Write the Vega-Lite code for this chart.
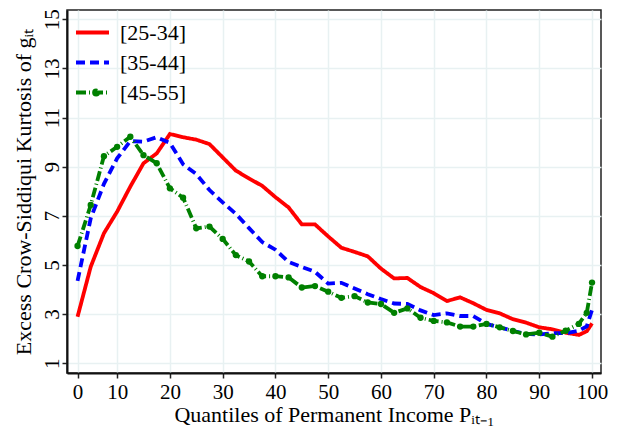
{
  "$schema": "https://vega.github.io/schema/vega-lite/v6.json",
  "width": 534,
  "height": 363,
  "autosize": {"type": "none"},
  "padding": {"left": 67, "top": 10, "right": 20, "bottom": 54},
  "background": "white",
  "config": {
    "font": "Liberation Serif",
    "view": {"stroke": "#222", "strokeWidth": 1.5},
    "axis": {
      "labelFont": "Liberation Serif",
      "titleFont": "Liberation Serif",
      "labelColor": "black",
      "titleColor": "black",
      "labelFontSize": 21,
      "titleFontSize": 22,
      "titleFontWeight": "normal",
      "domainColor": "#111",
      "domainWidth": 2,
      "tickColor": "#222",
      "tickWidth": 1.5,
      "tickSize": 5,
      "gridColor": "#e8f1f2",
      "gridWidth": 1.5
    },
    "legend": {
      "labelFont": "Liberation Serif",
      "labelFontSize": 22,
      "labelColor": "black"
    }
  },
  "data": {
    "values": [
      {"x":2.5,"g":"[25-34]","y":2.89},{"x":5,"g":"[25-34]","y":4.93},{"x":7.5,"g":"[25-34]","y":6.29},{"x":10,"g":"[25-34]","y":7.17},{"x":12.5,"g":"[25-34]","y":8.19},{"x":15,"g":"[25-34]","y":9.14},{"x":17.5,"g":"[25-34]","y":9.54},{"x":20,"g":"[25-34]","y":10.33},{"x":22.5,"g":"[25-34]","y":10.2},{"x":25,"g":"[25-34]","y":10.1},{"x":27.5,"g":"[25-34]","y":9.92},{"x":30,"g":"[25-34]","y":9.38},{"x":32.5,"g":"[25-34]","y":8.84},{"x":35,"g":"[25-34]","y":8.52},{"x":37.5,"g":"[25-34]","y":8.22},{"x":40,"g":"[25-34]","y":7.76},{"x":42.5,"g":"[25-34]","y":7.34},{"x":45,"g":"[25-34]","y":6.65},{"x":47.5,"g":"[25-34]","y":6.65},{"x":50,"g":"[25-34]","y":6.16},{"x":52.5,"g":"[25-34]","y":5.7},{"x":55,"g":"[25-34]","y":5.53},{"x":57.5,"g":"[25-34]","y":5.35},{"x":60,"g":"[25-34]","y":4.85},{"x":62.5,"g":"[25-34]","y":4.45},{"x":65,"g":"[25-34]","y":4.47},{"x":67.5,"g":"[25-34]","y":4.1},{"x":70,"g":"[25-34]","y":3.85},{"x":72.5,"g":"[25-34]","y":3.53},{"x":75,"g":"[25-34]","y":3.68},{"x":77.5,"g":"[25-34]","y":3.44},{"x":80,"g":"[25-34]","y":3.17},{"x":82.5,"g":"[25-34]","y":3.03},{"x":85,"g":"[25-34]","y":2.79},{"x":87.5,"g":"[25-34]","y":2.65},{"x":90,"g":"[25-34]","y":2.46},{"x":92.5,"g":"[25-34]","y":2.38},{"x":95,"g":"[25-34]","y":2.24},{"x":97.5,"g":"[25-34]","y":2.15},{"x":99,"g":"[25-34]","y":2.3},{"x":100,"g":"[25-34]","y":2.62},
      {"x":2.5,"g":"[35-44]","y":4.35},{"x":5,"g":"[35-44]","y":6.9},{"x":7.5,"g":"[35-44]","y":8.3},{"x":10,"g":"[35-44]","y":9.34},{"x":12.5,"g":"[35-44]","y":10.04},{"x":15,"g":"[35-44]","y":10.02},{"x":17.5,"g":"[35-44]","y":10.2},{"x":20,"g":"[35-44]","y":9.97},{"x":22.5,"g":"[35-44]","y":9.1},{"x":25,"g":"[35-44]","y":8.7},{"x":27.5,"g":"[35-44]","y":8.05},{"x":30,"g":"[35-44]","y":7.55},{"x":32.5,"g":"[35-44]","y":7.08},{"x":35,"g":"[35-44]","y":6.5},{"x":37.5,"g":"[35-44]","y":5.93},{"x":40,"g":"[35-44]","y":5.62},{"x":42.5,"g":"[35-44]","y":5.12},{"x":45,"g":"[35-44]","y":4.92},{"x":47.5,"g":"[35-44]","y":4.72},{"x":50,"g":"[35-44]","y":4.24},{"x":52.5,"g":"[35-44]","y":4.27},{"x":55,"g":"[35-44]","y":4.04},{"x":57.5,"g":"[35-44]","y":3.81},{"x":60,"g":"[35-44]","y":3.61},{"x":62.5,"g":"[35-44]","y":3.43},{"x":65,"g":"[35-44]","y":3.41},{"x":67.5,"g":"[35-44]","y":3.15},{"x":70,"g":"[35-44]","y":2.96},{"x":72.5,"g":"[35-44]","y":3.03},{"x":75,"g":"[35-44]","y":2.92},{"x":77.5,"g":"[35-44]","y":2.92},{"x":80,"g":"[35-44]","y":2.6},{"x":82.5,"g":"[35-44]","y":2.46},{"x":85,"g":"[35-44]","y":2.32},{"x":87.5,"g":"[35-44]","y":2.19},{"x":90,"g":"[35-44]","y":2.17},{"x":92.5,"g":"[35-44]","y":2.22},{"x":95,"g":"[35-44]","y":2.22},{"x":97.5,"g":"[35-44]","y":2.32},{"x":99,"g":"[35-44]","y":2.5},{"x":100,"g":"[35-44]","y":3.17},
      {"x":2.5,"g":"[45-55]","y":5.77},{"x":5,"g":"[45-55]","y":7.44},{"x":7.5,"g":"[45-55]","y":9.43},{"x":10,"g":"[45-55]","y":9.81},{"x":12.5,"g":"[45-55]","y":10.22},{"x":15,"g":"[45-55]","y":9.47},{"x":17.5,"g":"[45-55]","y":9.14},{"x":20,"g":"[45-55]","y":8.12},{"x":22.5,"g":"[45-55]","y":7.74},{"x":25,"g":"[45-55]","y":6.49},{"x":27.5,"g":"[45-55]","y":6.56},{"x":30,"g":"[45-55]","y":6.06},{"x":32.5,"g":"[45-55]","y":5.4},{"x":35,"g":"[45-55]","y":5.14},{"x":37.5,"g":"[45-55]","y":4.54},{"x":40,"g":"[45-55]","y":4.54},{"x":42.5,"g":"[45-55]","y":4.49},{"x":45,"g":"[45-55]","y":4.08},{"x":47.5,"g":"[45-55]","y":4.14},{"x":50,"g":"[45-55]","y":3.91},{"x":52.5,"g":"[45-55]","y":3.66},{"x":55,"g":"[45-55]","y":3.73},{"x":57.5,"g":"[45-55]","y":3.47},{"x":60,"g":"[45-55]","y":3.41},{"x":62.5,"g":"[45-55]","y":3.05},{"x":65,"g":"[45-55]","y":3.23},{"x":67.5,"g":"[45-55]","y":2.85},{"x":70,"g":"[45-55]","y":2.72},{"x":72.5,"g":"[45-55]","y":2.66},{"x":75,"g":"[45-55]","y":2.49},{"x":77.5,"g":"[45-55]","y":2.49},{"x":80,"g":"[45-55]","y":2.6},{"x":82.5,"g":"[45-55]","y":2.46},{"x":85,"g":"[45-55]","y":2.31},{"x":87.5,"g":"[45-55]","y":2.17},{"x":90,"g":"[45-55]","y":2.24},{"x":92.5,"g":"[45-55]","y":2.08},{"x":95,"g":"[45-55]","y":2.32},{"x":97.5,"g":"[45-55]","y":2.6},{"x":99,"g":"[45-55]","y":3.05},{"x":100,"g":"[45-55]","y":4.28}
    ]
  },
  "encoding": {
    "x": {
      "field": "x", "type": "quantitative",
      "scale": {"domain": [0.5, 101.7], "nice": false, "zero": false},
      "axis": {
        "values": [2.5, 10, 20, 30, 40, 50, 60, 70, 80, 90, 100],
        "labelExpr": "datum.value == 2.5 ? '0' : datum.label",
        "title": "Quantiles of Permanent Income Pᵢₜ₋₁",
        "labelPadding": 3,
        "titlePadding": 2,
        "labelFlush": false
      }
    },
    "y": {
      "field": "y", "type": "quantitative",
      "scale": {"domain": [0.6, 15.38], "nice": false, "zero": false},
      "axis": {
        "values": [1, 3, 5, 7, 9, 11, 13, 15],
        "labelAngle": -90,
        "labelAlign": "center",
        "labelBaseline": "alphabetic",
        "labelPadding": 4,
        "title": "Excess Crow-Siddiqui Kurtosis of gᵢₜ",
        "titlePadding": 6,
        "labelFlush": false
      }
    }
  },
  "layer": [
    {
      "mark": {"type": "line", "strokeWidth": 3.8, "clip": true},
      "encoding": {
        "strokeDash": {
          "field": "g", "type": "nominal",
          "scale": {"domain": ["[25-34]", "[35-44]", "[45-55]"], "range": [[1, 0], [9, 5], [10, 3, 1, 3]]},
          "legend": {
            "title": null,
            "orient": "none",
            "legendX": 5,
            "legendY": 2,
            "symbolType": "stroke",
            "symbolSize": 1089,
            "symbolStrokeWidth": 4,
            "rowPadding": -8,
            "labelOffset": 9,
            "padding": 2,
            "labelFont": "Liberation Serif",
            "labelFontSize": 22,
            "encode": {
              "symbols": {
                "update": {
                  "shape": {"signal": "datum.value === '[45-55]' ? 'M-1,0H1M0.34,0A0.12,0.12,0,1,1,0.1,0A0.12,0.12,0,1,1,0.34,0Z' : 'stroke'"},
                  "fill": {"signal": "datum.value === '[45-55]' ? '#008000' : 'transparent'"}
                }
              }
            }
          }
        },
        "color": {
          "field": "g", "type": "nominal",
          "scale": {"domain": ["[25-34]", "[35-44]", "[45-55]"], "range": ["#ff0000", "#0000ff", "#008000"]},
          "legend": {
            "title": null,
            "orient": "none",
            "legendX": 5,
            "legendY": 2,
            "symbolType": "stroke",
            "symbolSize": 1089,
            "symbolStrokeWidth": 4,
            "rowPadding": -8,
            "labelOffset": 9,
            "padding": 2,
            "labelFont": "Liberation Serif",
            "labelFontSize": 22,
            "encode": {
              "symbols": {
                "update": {
                  "shape": {"signal": "datum.value === '[45-55]' ? 'M-1,0H1M0.34,0A0.12,0.12,0,1,1,0.1,0A0.12,0.12,0,1,1,0.34,0Z' : 'stroke'"},
                  "fill": {"signal": "datum.value === '[45-55]' ? '#008000' : 'transparent'"}
                }
              }
            }
          }
        }
      }
    },
    {
      "transform": [{"filter": "datum.g == '[45-55]'"}],
      "mark": {"type": "point", "filled": true, "shape": "circle", "size": 40, "opacity": 1, "color": "#008000"},
      "encoding": {}
    }
  ]
}
